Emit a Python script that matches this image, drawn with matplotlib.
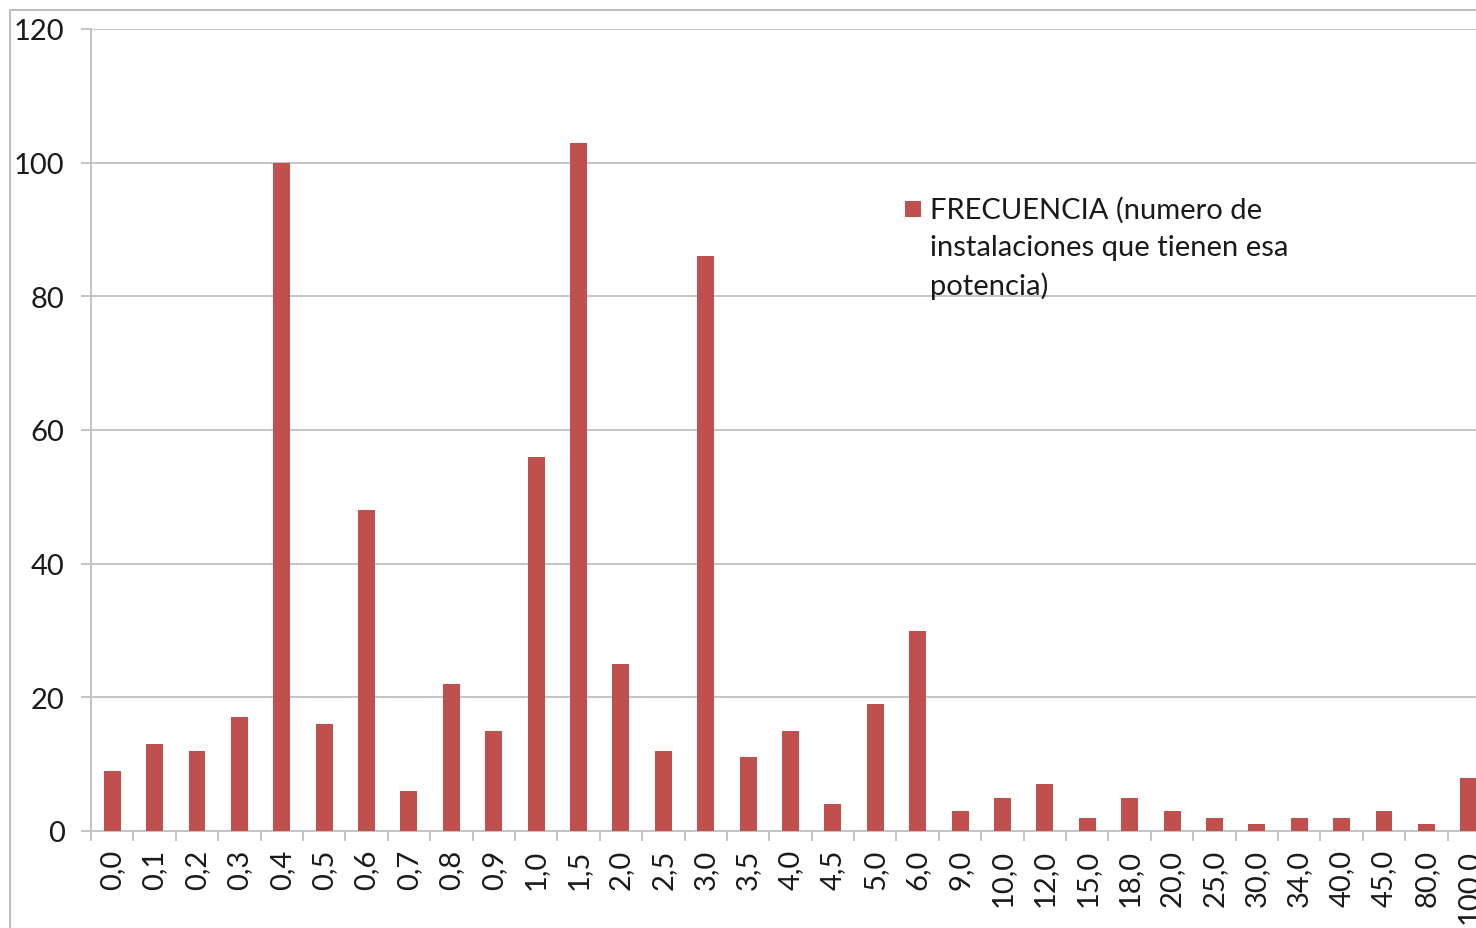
import matplotlib
matplotlib.use("Agg")
import matplotlib.pyplot as plt
from matplotlib.patches import Rectangle
import numpy as np

# potencia (kW) categories and how many installations have each
potencias = ['0,0', '0,1', '0,2', '0,3', '0,4', '0,5', '0,6', '0,7', '0,8', '0,9',
             '1,0', '1,5', '2,0', '2,5', '3,0', '3,5', '4,0', '4,5', '5,0', '6,0',
             '9,0', '10,0', '12,0', '15,0', '18,0', '20,0', '25,0', '30,0', '34,0',
             '40,0', '45,0', '80,0', '100,0']
frecuencia = [9, 13, 12, 17, 100, 16, 48, 6, 22, 15,
              56, 103, 25, 12, 86, 11, 15, 4, 19, 30,
              3, 5, 7, 2, 5, 3, 2, 1, 2,
              2, 3, 1, 8]
y_ticks = [0, 20, 40, 60, 80, 100, 120]
serie = 'FRECUENCIA (numero de\ninstalaciones que tienen esa\npotencia)'

plt.rcParams['font.family'] = ['Lato', 'DejaVu Sans']
grid_col = '#c4c4c4'
bar_col = '#c0504d'
txt_col = '#1a1a1a'
fs = 21

fig = plt.figure(figsize=(14.76, 9.29), dpi=100)
W, H = 1476, 929
left, right, top, bottom = 91, 1490, 30, 832
ax = fig.add_axes([left / W, 1 - bottom / H, (right - left) / W, (bottom - top) / H])

x = np.arange(len(potencias))
ax.bar(x, frecuencia, width=0.4, color=bar_col, zorder=3)

ax.set_xlim(-0.5, len(potencias) - 0.5)
ax.set_ylim(0, 120)
ax.set_yticks(y_ticks)
ax.set_yticklabels([str(v) for v in y_ticks])
ax.yaxis.grid(True, color=grid_col, linewidth=1.4, zorder=0)

ax.set_xticks(x)
ax.set_xticklabels(potencias, rotation=90)
ax.set_xticks(np.arange(len(potencias) + 1) - 0.5, minor=True)
ax.tick_params(axis='x', which='major', length=0, pad=13, labelsize=fs, labelcolor=txt_col)
ax.tick_params(axis='x', which='minor', length=7, width=1.4, color=grid_col)
ax.tick_params(axis='y', length=7, width=1.4, color=grid_col, pad=12, labelsize=fs,
               labelcolor=txt_col)

for s in ['top', 'right']:
    ax.spines[s].set_visible(False)
for s in ['left', 'bottom']:
    ax.spines[s].set_color(grid_col)
    ax.spines[s].set_linewidth(1.4)

# legend: square key aligned with the first line of the wrapped label
fig.add_artist(Rectangle((905 / W, 1 - 218 / H), 16 / W, 16 / H, transform=fig.transFigure,
                         facecolor=bar_col, edgecolor='none'))
fig.text(930 / W, 1 - 197 / H, serie, fontsize=fs, color=txt_col, va='top', ha='left',
         linespacing=1.52)

# outer chart border (cropped: only top and left edges visible)
fig.add_artist(plt.Line2D([10 / W, 10 / W], [0, 1 - 11 / H], transform=fig.transFigure,
                          color='#bdbdbd', linewidth=1.4))
fig.add_artist(plt.Line2D([10 / W, 1], [1 - 11 / H, 1 - 11 / H], transform=fig.transFigure,
                          color='#bdbdbd', linewidth=1.4))

fig.savefig('out.png', dpi=100)
